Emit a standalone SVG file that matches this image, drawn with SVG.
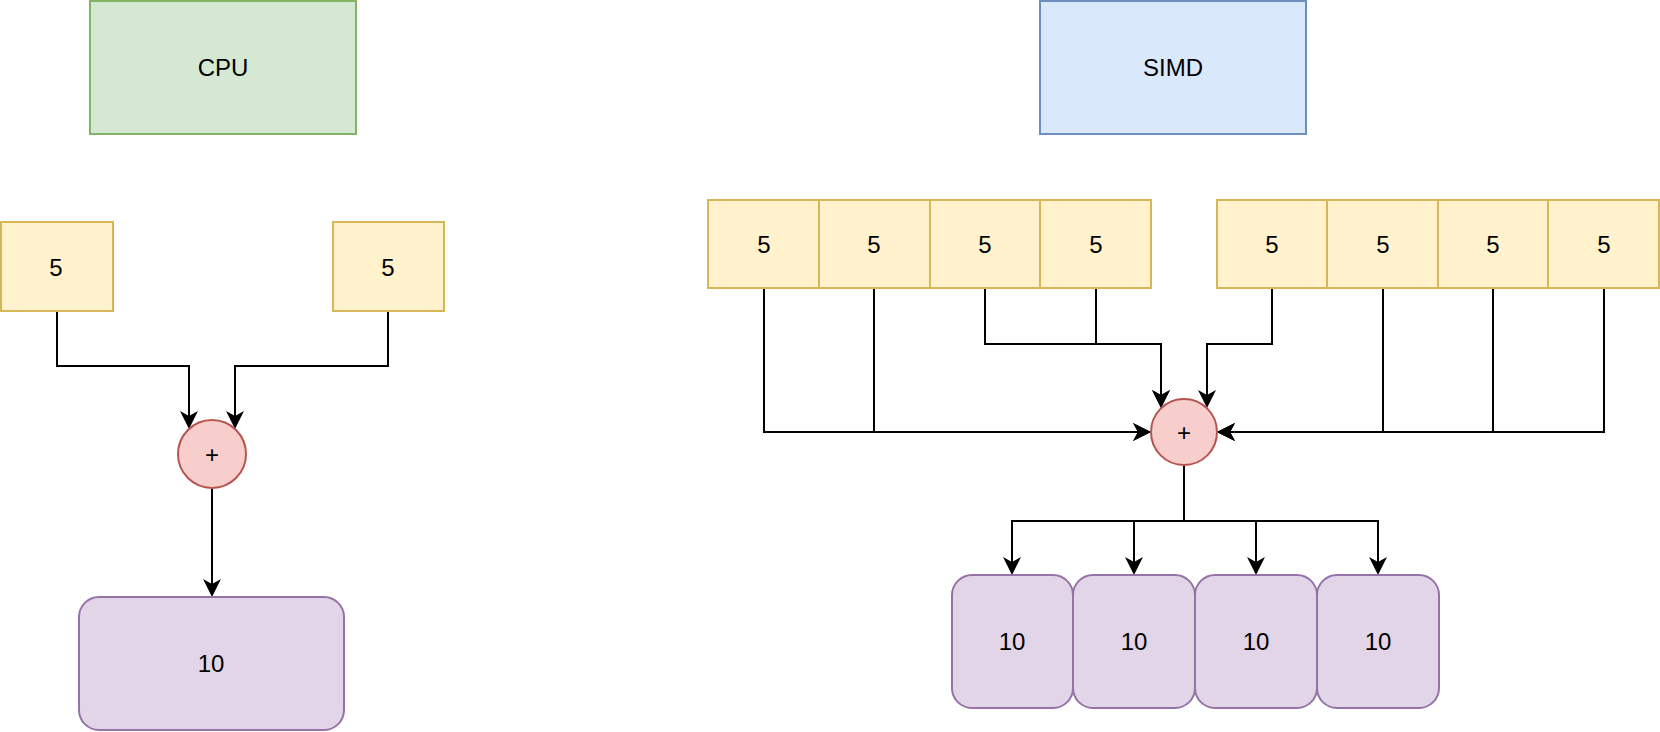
<svg xmlns="http://www.w3.org/2000/svg" width="1660" height="732" viewBox="0 0 1660 732">
<defs>
<style>
text{font-family:"Liberation Sans",Arial,sans-serif;font-size:24px;fill:#000;text-anchor:middle;dominant-baseline:central}
.g{fill:#d5e8d4;stroke:#82b366;stroke-width:2}
.b{fill:#dae8fc;stroke:#6c8ebf;stroke-width:2}
.y{fill:#fff2cc;stroke:#d6b656;stroke-width:2}
.r{fill:#f8cecc;stroke:#b85450;stroke-width:2}
.p{fill:#e1d5e7;stroke:#9673a6;stroke-width:2}
.e{fill:none;stroke:#000;stroke-width:2}
.a{marker-end:url(#arr)}
</style>
<marker id="arr" markerUnits="userSpaceOnUse" viewBox="0 0 18 18" markerWidth="18" markerHeight="18" refX="12" refY="9" orient="auto">
<path d="M18,9 L0,0 L5,9 L0,18 Z" fill="#000"/>
</marker>
</defs>
<rect width="1660" height="732" fill="#fff"/>
<g id="connectors">
<path class="e a" d="M57,311 V366 H189 V423"/>
<path class="e a" d="M388,311 V366 H235 V423"/>
<path class="e a" d="M212,488 V591"/>
<path class="e a" d="M764,288 V432 H1145"/>
<path class="e a" d="M874,288 V432 H1145"/>
<path class="e a" d="M985,288 V344 H1161 V402"/>
<path class="e a" d="M1096,288 V344 H1161 V402"/>
<path class="e a" d="M1272,288 V344 H1207 V402"/>
<path class="e a" d="M1383,288 V432 H1223"/>
<path class="e a" d="M1493,288 V432 H1223"/>
<path class="e a" d="M1604,288 V432 H1223"/>
<path class="e a" d="M1184,465 V521 H1012 V569"/>
<path class="e a" d="M1184,465 V521 H1134 V569"/>
<path class="e a" d="M1184,465 V521 H1256 V569"/>
<path class="e a" d="M1184,465 V521 H1378 V569"/>
</g>
<g id="cpu"><rect class="g" x="90" y="1" width="266" height="133"/><text x="223" y="67">CPU</text></g>
<g id="simd"><rect class="b" x="1040" y="1" width="266" height="133"/><text x="1173" y="67">SIMD</text></g>
<g id="cpu-a"><rect class="y" x="1" y="222" width="112" height="89"/><text x="56" y="267">5</text></g>
<g id="cpu-b"><rect class="y" x="333" y="222" width="111" height="89"/><text x="388" y="267">5</text></g>
<g id="cpu-add"><circle class="r" cx="212" cy="454" r="34"/><text x="212" y="454">+</text></g>
<g id="cpu-out"><rect class="p" x="79" y="597" width="265" height="133" rx="20"/><text x="211" y="663">10</text></g>
<g id="va1"><rect class="y" x="708" y="200" width="111" height="88"/><text x="764" y="244">5</text></g>
<g id="va2"><rect class="y" x="819" y="200" width="111" height="88"/><text x="874" y="244">5</text></g>
<g id="va3"><rect class="y" x="930" y="200" width="110" height="88"/><text x="985" y="244">5</text></g>
<g id="va4"><rect class="y" x="1040" y="200" width="111" height="88"/><text x="1096" y="244">5</text></g>
<g id="vb1"><rect class="y" x="1217" y="200" width="110" height="88"/><text x="1272" y="244">5</text></g>
<g id="vb2"><rect class="y" x="1327" y="200" width="111" height="88"/><text x="1383" y="244">5</text></g>
<g id="vb3"><rect class="y" x="1438" y="200" width="110" height="88"/><text x="1493" y="244">5</text></g>
<g id="vb4"><rect class="y" x="1548" y="200" width="111" height="88"/><text x="1604" y="244">5</text></g>
<g id="simd-add"><circle class="r" cx="1184" cy="432" r="33"/><text x="1184" y="432">+</text></g>
<g id="vo1"><rect class="p" x="952" y="575" width="121" height="133" rx="20"/><text x="1012" y="641">10</text></g>
<g id="vo2"><rect class="p" x="1073" y="575" width="122" height="133" rx="20"/><text x="1134" y="641">10</text></g>
<g id="vo3"><rect class="p" x="1195" y="575" width="122" height="133" rx="20"/><text x="1256" y="641">10</text></g>
<g id="vo4"><rect class="p" x="1317" y="575" width="122" height="133" rx="20"/><text x="1378" y="641">10</text></g>
</svg>
